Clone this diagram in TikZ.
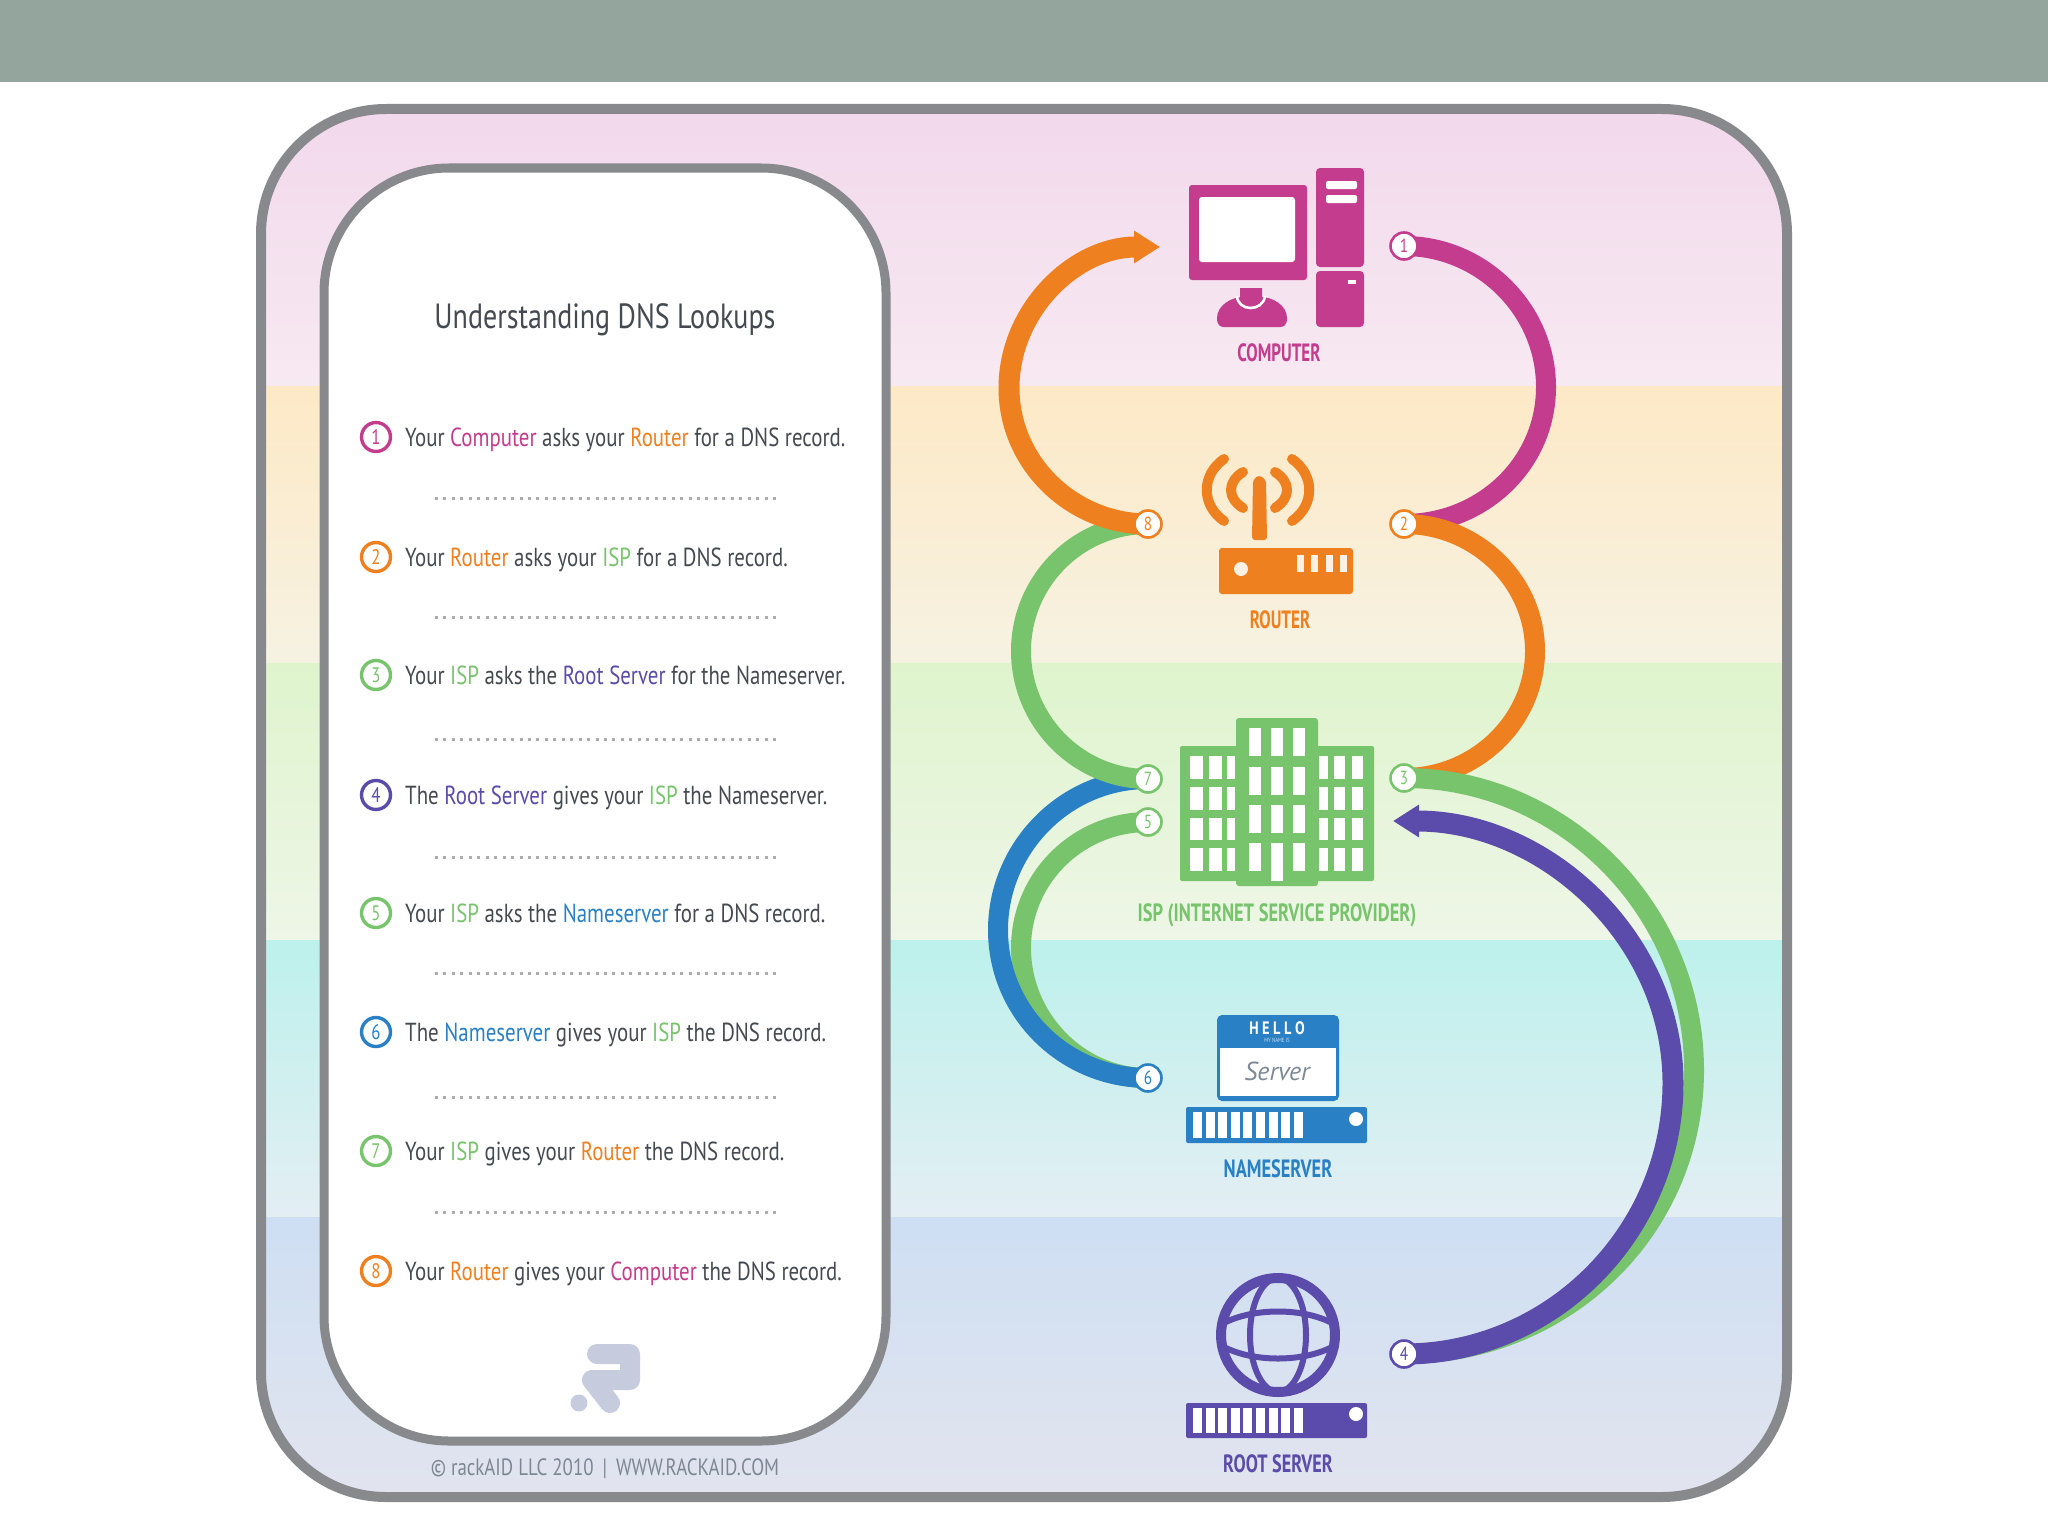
\documentclass[tikz,border=0pt]{standalone}
\usepackage{fontspec}
\usepackage{xcolor}
\usepackage{tikz}
\usetikzlibrary{arrows.meta}
\setmainfont[FakeStretch=0.8]{PT Sans}
\newfontfamily\hnd{PT Sans}
\definecolor{mg}{HTML}{C43C8E}
\definecolor{og}{HTML}{EE8020}
\definecolor{gn}{HTML}{78C46C}
\definecolor{bl}{HTML}{2A80C4}
\definecolor{pu}{HTML}{5B4BAB}
\definecolor{fr}{HTML}{88898C}
\definecolor{tx}{HTML}{454A50}
\definecolor{hdr}{HTML}{93A59C}
\definecolor{lg}{HTML}{C6CCDD}
\definecolor{ft}{HTML}{7D8793}
\definecolor{pka}{HTML}{F2D9EC}
\definecolor{pkb}{HTML}{F7E9F1}
\definecolor{pea}{HTML}{FDE9C6}
\definecolor{peb}{HTML}{F6F2E2}
\definecolor{gra}{HTML}{DFF4CD}
\definecolor{grb}{HTML}{EEF6E7}
\definecolor{cya}{HTML}{BDF1EC}
\definecolor{cyb}{HTML}{E3EEF3}
\definecolor{bla}{HTML}{CEDFF3}
\definecolor{blb}{HTML}{E2E4EE}
\pgfdeclarelayer{back}
\pgfdeclarelayer{links}
\pgfsetlayers{back,links,main}
\tikzset{
  band/.style 2 args={top color=#1,bottom color=#2,draw=none},
  lnk/.style={line width=20pt,draw=#1},
  tip/.style={line width=21pt,draw=#1,-{Triangle[length=26pt,width=31pt]}},
  num/.style={circle,draw=#1,fill=white,text=#1,line width=2.6pt,minimum size=27pt,inner sep=0pt,font=\fontsize{19}{19}\selectfont},
  mrk/.style={circle,draw=#1,fill=white,text=#1,line width=3.4pt,minimum size=29pt,inner sep=0pt,font=\fontsize{21}{21}\selectfont},
  lst/.style={anchor=west,inner sep=0pt,text=tx,text height=18pt,text depth=0pt,font=\fontsize{26.1}{28}\selectfont},
  cap/.style={inner sep=0pt,text=#1,text height=18pt,text depth=0pt,xscale=0.85,font=\bfseries\fontsize{25}{28}\selectfont},
  dot/.style={gray!65,line width=3pt,dash pattern=on 3pt off 5.45pt},
  win/.style={fill=white,draw=none},
  bar/.style={fill=white,draw=none}
}
\newcommand{\cmpt}[1]{\textcolor{mg}{#1}}
\newcommand{\rtr}[1]{\textcolor{og}{#1}}
\newcommand{\isp}[1]{\textcolor{gn}{#1}}
\newcommand{\nms}[1]{\textcolor{bl}{#1}}
\newcommand{\rts}[1]{\textcolor{pu}{#1}}

\begin{document}
\begin{tikzpicture}[x=1pt,y=-1pt]
\useasboundingbox (0,0) rectangle (2048,1536);
\begin{pgfonlayer}{back}
\fill[white] (0,0) rectangle (2048,1536);
\fill[hdr] (0,0) rectangle (2048,82);
% colour bands of the frame
\begin{scope}
\clip[rounded corners=125pt] (261,109) rectangle (1787,1497);
\shade[band={pka}{pkb}] (261,109) rectangle (1787,386);
\shade[band={pea}{peb}] (261,386) rectangle (1787,663);
\shade[band={gra}{grb}] (261,663) rectangle (1787,940);
\shade[band={cya}{cyb}] (261,940) rectangle (1787,1217);
\shade[band={bla}{blb}] (261,1217) rectangle (1787,1497);
\end{scope}
\draw[fr,line width=10pt,rounded corners=125pt] (261,109) rectangle (1787,1497);
\draw[fr,fill=white,line width=9pt,rounded corners=125pt] (324,168) rectangle (886,1441);
\end{pgfonlayer}

% list panel
\node[inner sep=0pt,text=tx,font=\fontsize{35}{36}\selectfont] (title) at (605,320) {Understanding DNS Lookups};
\node[mrk=mg] (m1) at (376,437) {1}; \node[lst] (t1) at (405,437) {Your \cmpt{Computer} asks your \rtr{Router} for a DNS record.};
\node[mrk=og] (m2) at (376,557) {2}; \node[lst] (t2) at (405,557) {Your \rtr{Router} asks your \isp{ISP} for a DNS record.};
\node[mrk=gn] (m3) at (376,675) {3}; \node[lst] (t3) at (405,675) {Your \isp{ISP} asks the \rts{Root Server} for the Nameserver.};
\node[mrk=pu] (m4) at (376,795) {4}; \node[lst] (t4) at (405,795) {The \rts{Root Server} gives your \isp{ISP} the Nameserver.};
\node[mrk=gn] (m5) at (376,913) {5}; \node[lst] (t5) at (405,913) {Your \isp{ISP} asks the \nms{Nameserver} for a DNS record.};
\node[mrk=bl] (m6) at (376,1032) {6}; \node[lst] (t6) at (405,1032) {The \nms{Nameserver} gives your \isp{ISP} the DNS record.};
\node[mrk=gn] (m7) at (376,1151) {7}; \node[lst] (t7) at (405,1151) {Your \isp{ISP} gives your \rtr{Router} the DNS record.};
\node[mrk=og] (m8) at (376,1271) {8}; \node[lst] (t8) at (405,1271) {Your \rtr{Router} gives your \cmpt{Computer} the DNS record.};
\foreach \y in {498,617,739,857,973,1097,1212} \draw[dot] (435,\y) -- (776,\y);

% logo
\draw[lg,line width=20pt,line cap=round,line join=round] (597,1354) -- (630,1354) -- (630,1380) -- (592,1380) -- (610,1403);
\fill[lg] (579,1403) circle (8.5pt);
\node[inner sep=0pt,text=ft,font=\fontsize{23.6}{26}\selectfont] (foot) at (605,1469) {© rackAID LLC 2010 \,|\, WWW.RACKAID.COM};

% computer
\fill[mg,rounded corners=3pt] (1189,185) rectangle (1307,280);
\fill[white,rounded corners=3pt] (1199,197) rectangle (1295,262);
\fill[mg,rounded corners=4pt] (1316,168) rectangle (1364,267);
\fill[mg,rounded corners=4pt] (1316,271) rectangle (1364,327);
\fill[white,rounded corners=2pt] (1326,181) rectangle (1357,189);
\fill[white,rounded corners=2pt] (1326,195) rectangle (1357,203);
\fill[white] (1348,280) rectangle (1356,284);
\fill[mg] (1217,318) .. controls (1217,305) and (1232,297) .. (1243,297) -- (1261,297) .. controls (1272,297) and (1287,305) .. (1287,318) .. controls (1287,325) and (1284,327) .. (1280,327) -- (1224,327) .. controls (1220,327) and (1217,325) .. (1217,318) -- cycle;
\draw[white,line width=2.6pt] (1237,296) .. controls (1238,312) and (1263,312) .. (1265,296);
\fill[mg] (1240,288) -- (1262,288) -- (1262,298) .. controls (1260,307) and (1242,307) .. (1240,298) -- cycle;
\node[cap=mg] (lcmp) at (1279,352) {COMPUTER};

% router
\fill[og,rounded corners=3pt] (1252,540) -- (1253,480) -- (1259,475) -- (1266,480) -- (1267,540) -- cycle;
\draw[og,line width=10pt,line cap=round] (1224,459) .. controls (1201,475) and (1201,505) .. (1224,521);
\draw[og,line width=10pt,line cap=round] (1243,472) .. controls (1227,482) and (1227,498) .. (1243,508);
\draw[og,line width=10pt,line cap=round] (1292,459) .. controls (1315,475) and (1315,505) .. (1292,521);
\draw[og,line width=10pt,line cap=round] (1275,472) .. controls (1291,482) and (1291,498) .. (1275,508);
\fill[og,rounded corners=3pt] (1219,548) rectangle (1353,594);
\fill[white!88!og] (1241,569) circle (7pt);
\foreach \x in {1297,1311,1326,1340} \fill[white!88!og] (\x,555) rectangle (\x+6.5,572);
\node[cap=og] (lrtr) at (1280,619) {ROUTER};

% isp building
\fill[gn,rounded corners=2pt] (1180,746) rectangle (1374,881);
\fill[gn,rounded corners=3pt] (1236,718) rectangle (1318,886);
\foreach \x/\w in {1190/13,1209/13,1227/8,1319/9,1334/11,1352/11}
  \foreach \y/\h in {756/23,787/23,818/22,848/23} \fill[win] (\x,\y) rectangle (\x+\w,\y+\h);
\foreach \x in {1249,1271,1293}
  \foreach \y/\h in {728/28,767/28,805/28,843/28} \fill[win] (\x,\y) rectangle (\x+12,\y+\h);
\fill[win] (1271,870) rectangle (1283,881);
\node[cap=gn,xscale=1.08] (lisp) at (1277,912) {ISP (INTERNET SERVICE PROVIDER)};

% nameserver
\fill[bl,rounded corners=5pt] (1217,1015) rectangle (1339,1101);
\fill[white] (1220,1048) rectangle (1336,1096);
\node[inner sep=0pt,text=white,font=\bfseries\fontsize{18}{18}\selectfont] (hello) at (1277,1028) {H\hspace{3.5pt}E\hspace{3.5pt}L\hspace{3.5pt}L\hspace{3.5pt}O};
\node[inner sep=0pt,text=white!75!bl,font=\fontsize{6}{6}\selectfont] (mine) at (1277,1040) {MY NAME IS};
\node[inner sep=0pt,text={rgb,255:red,125;green,138;blue,150},font=\hnd\itshape\fontsize{26}{26}\selectfont] (srv) at (1277,1071) {Server};
\fill[bl,rounded corners=2pt] (1186,1107) rectangle (1367,1143);
\foreach \i in {0,...,8} \fill[bar] (1193+12.6*\i,1112) rectangle (1202+12.6*\i,1138);
\fill[bar] (1356,1119) circle (7pt);
\node[cap=bl,xscale=1.08] (lnam) at (1278,1168) {NAMESERVER};

% root server
\draw[pu,line width=10pt] (1278,1335) circle (57pt);
\draw[pu,line width=6pt] (1278,1335) ellipse (28pt and 57pt);
\draw[pu,line width=6pt] (1226,1322) .. controls (1255,1308) and (1301,1308) .. (1330,1322);
\draw[pu,line width=6pt] (1226,1348) .. controls (1255,1362) and (1301,1362) .. (1330,1348);
\fill[pu,rounded corners=2pt] (1186,1403) rectangle (1367,1438);
\foreach \i in {0,...,8} \fill[bar] (1193+12.6*\i,1408) rectangle (1202+12.6*\i,1433);
\fill[bar] (1356,1414) circle (7pt);
\node[cap=pu,xscale=1.07] (lroot) at (1278,1463) {ROOT SERVER};

% step badges
\node[num=mg] (n1) at (1404,246) {1};
\node[num=og] (n2) at (1404,524) {2};
\node[num=gn] (n3) at (1404,778) {3};
\node[num=pu] (n4) at (1404,1354) {4};
\node[num=gn] (n5) at (1148,822) {5};
\node[num=bl] (n6) at (1148,1078) {6};
\node[num=gn] (n7) at (1148,779) {7};
\node[num=og] (n8) at (1148,524) {8};
\coordinate (a8) at (1160,247);
\coordinate (a4) at (1393,821);
\coordinate (r1) at (1546,387);
\coordinate (r2) at (1535,651);
\coordinate (r3) at (1694,1070);
\coordinate (r4) at (1673,1083);
\coordinate (l5) at (1021,948);
\coordinate (l6) at (998,930);
\coordinate (l7) at (1021,651);
\coordinate (l8) at (1009,388);

\begin{pgfonlayer}{links}
\draw[lnk=mg] (n1.center) .. controls +(78,0) and +(0,-77) .. (r1) .. controls +(0,77) and +(78,0) .. (n2.center);
\draw[lnk=og] (n2.center) .. controls +(72,0) and +(0,-70) .. (r2) .. controls +(0,70) and +(72,0) .. (n3.center);
\draw[lnk=gn] (n3.center) .. controls +(160,0) and +(0,-160) .. (r3) .. controls +(0,160) and +(160,0) .. (n4.center);
\draw[tip=pu] (n4.center) .. controls +(148,0) and +(0,149) .. (r4) .. controls +(0,-145) and +(152,0) .. (a4);
\draw[lnk=gn] (n5.center) .. controls +(-70,0) and +(0,-70) .. (l5) .. controls +(0,70) and +(-70,0) .. (n6.center);
\draw[lnk=bl] (n6.center) .. controls +(-83,0) and +(0,82) .. (l6) .. controls +(0,-82) and +(-83,0) .. (n7.center);
\draw[lnk=gn] (n7.center) .. controls +(-70,0) and +(0,70) .. (l7) .. controls +(0,-70) and +(-70,0) .. (n8.center);
\draw[tip=og] (n8.center) .. controls +(-76,0) and +(0,75) .. (l8) .. controls +(0,-78) and +(-85,0) .. (a8);
\end{pgfonlayer}
\end{tikzpicture}
\end{document}
